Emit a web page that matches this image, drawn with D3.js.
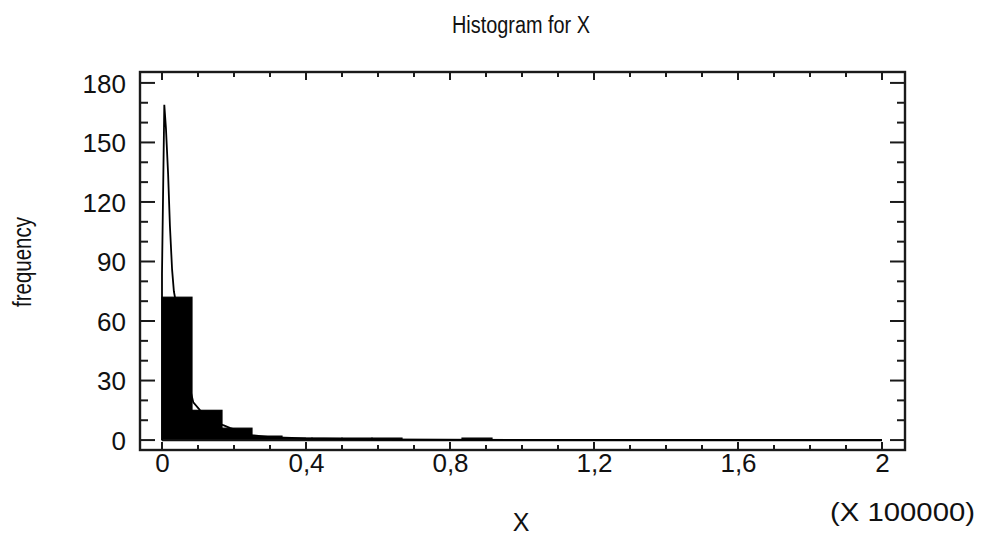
<!DOCTYPE html>
<html>
<head>
<meta charset="utf-8">
<script src="https://cdn.jsdelivr.net/npm/d3@7"></script>
<style>
  html, body { margin: 0; padding: 0; background: #fff; }
  svg { display: block; }
</style>
</head>
<body>
<svg id="chart" width="982" height="536"></svg>
<script>
// ---- data (x in units of 100000) ----
const binStart = 0;
const binEnd = 2;
const binCounts = [72, 15, 6, 2, 1, 1, 1, 1, 0, 0, 1, 0, 0, 0, 0, 0, 0, 0, 0, 0, 0, 0, 0, 0];
const curveX = [0, 0, 0.0064, 0.011, 0.017, 0.022, 0.028, 0.033, 0.04, 0.05, 0.06, 0.07, 0.087, 0.106, 0.13, 0.17, 0.19, 0.25, 0.30, 0.40, 0.60, 1.0, 1.5, 2.0];
const curveY = [0, 84, 169, 157, 134, 108, 86, 75, 68, 55, 43, 32, 19, 15, 11, 7.5, 6, 2.5, 1.5, 0.8, 0.3, 0.1, 0.03, 0];
const xTickLabels = ["0", "0,4", "0,8", "1,2", "1,6", "2"];
const xTickValues = [0, 0.4, 0.8, 1.2, 1.6, 2.0];
const yTickValues = [0, 30, 60, 90, 120, 150, 180];

const svg = d3.select("#chart");
const L = 140, R = 905, T = 72, B = 450;

const x = d3.scaleLinear().domain([-0.0611, 2.0639]).range([L, R]);
const y = d3.scaleLinear().domain([-5, 185.5]).range([B, T]);

const binW = (binEnd - binStart) / binCounts.length;
const bins = binCounts.map((c, i) => ({ x0: binStart + i * binW, x1: binStart + (i + 1) * binW, c }));

// bars
svg.append("g").selectAll("rect").data(bins.filter(d => d.c > 0)).join("rect")
  .attr("x", d => x(d.x0))
  .attr("width", d => x(d.x1) - x(d.x0))
  .attr("y", d => y(d.c))
  .attr("height", d => y(0) - y(d.c))
  .attr("fill", "#000")
  .attr("stroke", "#000")
  .attr("stroke-width", 1.2);

// baseline outline for empty bins
svg.append("line")
  .attr("x1", x(binStart)).attr("x2", x(binEnd))
  .attr("y1", y(0)).attr("y2", y(0))
  .attr("stroke", "#111").attr("stroke-width", 2.2);

// density curve
const line = d3.line().x((d, i) => x(curveX[i])).y(d => y(d));
svg.append("path")
  .attr("d", line(curveY))
  .attr("fill", "none")
  .attr("stroke", "#000")
  .attr("stroke-width", 1.8);

// frame
svg.append("rect")
  .attr("x", L).attr("y", T).attr("width", R - L).attr("height", B - T)
  .attr("fill", "none").attr("stroke", "#1a1a1a").attr("stroke-width", 2.4);

// x ticks (inward) bottom and top
const xMinor = d3.range(0, 21).map(i => i / 10);
const isMajorX = v => xTickValues.some(t => Math.abs(t - v) < 1e-9);
const gxt = svg.append("g").attr("stroke", "#1a1a1a").attr("stroke-width", 2);
xMinor.forEach(v => {
  const len = isMajorX(v) ? 8 : 5;
  gxt.append("line").attr("x1", x(v)).attr("x2", x(v)).attr("y1", B).attr("y2", B - len);
  gxt.append("line").attr("x1", x(v)).attr("x2", x(v)).attr("y1", T).attr("y2", T + len);
});

// y ticks (inward) left and right
const yMinor = d3.range(0, 19).map(i => i * 10);
const isMajorY = v => yTickValues.includes(v);
yMinor.forEach(v => {
  const len = isMajorY(v) ? 15 : 8;
  gxt.append("line").attr("x1", L).attr("x2", L + len).attr("y1", y(v)).attr("y2", y(v));
  gxt.append("line").attr("x1", R).attr("x2", R - len).attr("y1", y(v)).attr("y2", y(v));
});

// tick labels via axes (ticks hidden)
const fontMain = "Arial, 'Liberation Sans', sans-serif";
const xAxis = d3.axisBottom(x).tickValues(xTickValues).tickSize(0).tickPadding(0)
  .tickFormat((d, i) => xTickLabels[i]);
const gx = svg.append("g").attr("transform", `translate(0,${B + 22})`).call(xAxis);
gx.select(".domain").remove();
gx.selectAll("text").attr("font-family", fontMain).attr("font-size", 26).attr("fill", "#111").attr("dy", "0");

const yAxis = d3.axisLeft(y).tickValues(yTickValues).tickSize(0).tickPadding(0);
const gy = svg.append("g").attr("transform", `translate(${L - 14},0)`).call(yAxis);
gy.select(".domain").remove();
gy.selectAll("text").attr("font-family", fontMain).attr("font-size", 26).attr("fill", "#111").attr("dy", "0.36em");

// titles
svg.append("text")
  .attr("x", 521).attr("y", 33)
  .attr("text-anchor", "middle")
  .attr("font-family", fontMain)
  .attr("font-size", 23).attr("fill", "#111")
  .attr("textLength", 138).attr("lengthAdjust", "spacingAndGlyphs")
  .text("Histogram for X");

svg.append("text")
  .attr("transform", "translate(31,262) rotate(-90)")
  .attr("text-anchor", "middle")
  .attr("font-family", fontMain)
  .attr("font-size", 25).attr("fill", "#111")
  .attr("textLength", 90).attr("lengthAdjust", "spacingAndGlyphs")
  .text("frequency");

svg.append("text")
  .attr("x", 521).attr("y", 531)
  .attr("text-anchor", "middle")
  .attr("font-family", fontMain)
  .attr("font-size", 25).attr("fill", "#111")
  .text("X");

svg.append("text")
  .attr("x", 975).attr("y", 521)
  .attr("text-anchor", "end")
  .attr("font-family", fontMain)
  .attr("font-size", 26).attr("fill", "#111")
  .attr("textLength", 145).attr("lengthAdjust", "spacingAndGlyphs")
  .text("(X 100000)");
</script>
</body>
</html>
